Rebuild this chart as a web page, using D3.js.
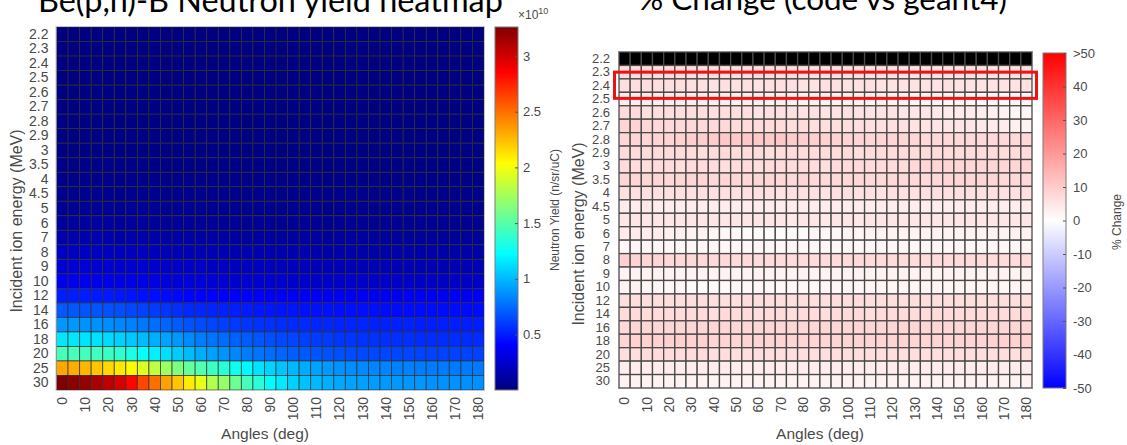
<!DOCTYPE html>
<html>
<head>
<meta charset="utf-8">
<script src="https://cdn.jsdelivr.net/npm/d3@7"></script>
<style>
  html, body { margin: 0; padding: 0; background: #fff; }
  svg { display: block; }
</style>
</head>
<body>
<svg id="chart" width="1127" height="445"></svg>
<script>
// Incident proton energies (MeV), rows top to bottom
const energies = ["2.2","2.3","2.4","2.5","2.6","2.7","2.8","2.9","3","3.5","4","4.5","5","6","7","8","9","10","12","14","16","18","20","25","30"];
// Emission angles (deg), one column each
const angles = [0,5,10,15,20,25,30,35,40,45,50,55,60,65,70,75,80,85,90,95,100,105,110,115,120,125,130,135,140,145,150,155,160,165,170,175,180];
const angleTicks = [0,10,20,30,40,50,60,70,80,90,100,110,120,130,140,150,160,170,180];

// Neutron yield in units of 1e10 n/sr/uC, one row per energy
const yieldE10 = [
  [0.002,0.002,0.002,0.002,0.002,0.002,0.002,0.002,0.002,0.002, 0.002,0.002,0.002,0.002,0.002,0.002,0.002,0.002,0.002,0.002, 0.002,0.002,0.002,0.002,0.002,0.002,0.002,0.002,0.002,0.002, 0.002,0.002,0.002,0.002,0.002,0.002,0.002],
  [0.004,0.004,0.004,0.004,0.004,0.004,0.004,0.004,0.004,0.004, 0.004,0.004,0.003,0.003,0.003,0.003,0.003,0.003,0.003,0.003, 0.003,0.003,0.003,0.003,0.003,0.003,0.003,0.003,0.003,0.003, 0.003,0.003,0.003,0.003,0.003,0.003,0.003],
  [0.006,0.006,0.006,0.006,0.006,0.006,0.006,0.006,0.006,0.006, 0.005,0.005,0.005,0.005,0.005,0.005,0.005,0.005,0.005,0.005, 0.005,0.005,0.005,0.005,0.005,0.005,0.005,0.005,0.005,0.005, 0.005,0.005,0.005,0.005,0.005,0.005,0.005],
  [0.008,0.008,0.008,0.008,0.008,0.008,0.008,0.007,0.007,0.007, 0.007,0.007,0.007,0.007,0.006,0.006,0.006,0.006,0.006,0.006, 0.006,0.006,0.006,0.006,0.006,0.006,0.006,0.006,0.006,0.006, 0.006,0.006,0.006,0.006,0.006,0.006,0.006],
  [0.010,0.010,0.010,0.010,0.010,0.010,0.009,0.009,0.009,0.009, 0.009,0.008,0.008,0.008,0.008,0.008,0.008,0.007,0.007,0.007, 0.007,0.007,0.007,0.007,0.007,0.007,0.007,0.007,0.007,0.007, 0.007,0.007,0.007,0.007,0.007,0.007,0.007],
  [0.012,0.012,0.012,0.012,0.012,0.011,0.011,0.011,0.011,0.011, 0.010,0.010,0.010,0.010,0.010,0.009,0.009,0.009,0.009,0.009, 0.009,0.009,0.009,0.008,0.008,0.008,0.008,0.008,0.008,0.008, 0.008,0.008,0.008,0.008,0.008,0.008,0.008],
  [0.015,0.015,0.015,0.015,0.014,0.014,0.014,0.014,0.013,0.013, 0.013,0.013,0.012,0.012,0.012,0.012,0.011,0.011,0.011,0.011, 0.011,0.011,0.010,0.010,0.010,0.010,0.010,0.010,0.010,0.010, 0.010,0.010,0.010,0.010,0.010,0.010,0.010],
  [0.018,0.018,0.018,0.017,0.017,0.017,0.017,0.016,0.016,0.016, 0.015,0.015,0.015,0.014,0.014,0.014,0.014,0.013,0.013,0.013, 0.013,0.013,0.012,0.012,0.012,0.012,0.012,0.012,0.012,0.012, 0.012,0.012,0.012,0.012,0.012,0.012,0.012],
  [0.020,0.020,0.020,0.020,0.019,0.019,0.019,0.018,0.018,0.018, 0.017,0.017,0.016,0.016,0.016,0.015,0.015,0.015,0.015,0.014, 0.014,0.014,0.014,0.014,0.014,0.013,0.013,0.013,0.013,0.013, 0.013,0.013,0.013,0.013,0.013,0.013,0.013],
  [0.030,0.030,0.030,0.029,0.029,0.029,0.028,0.028,0.027,0.027, 0.026,0.025,0.025,0.024,0.024,0.023,0.023,0.022,0.022,0.022, 0.021,0.021,0.021,0.020,0.020,0.020,0.020,0.020,0.019,0.019, 0.019,0.019,0.019,0.019,0.019,0.019,0.019],
  [0.040,0.040,0.040,0.039,0.039,0.038,0.038,0.037,0.036,0.035, 0.035,0.034,0.033,0.032,0.032,0.031,0.030,0.030,0.029,0.029, 0.028,0.028,0.027,0.027,0.027,0.026,0.026,0.026,0.026,0.025, 0.025,0.025,0.025,0.025,0.025,0.025,0.025],
  [0.052,0.052,0.052,0.051,0.051,0.050,0.049,0.048,0.047,0.046, 0.045,0.044,0.043,0.042,0.041,0.040,0.039,0.038,0.038,0.037, 0.036,0.036,0.035,0.035,0.034,0.034,0.034,0.033,0.033,0.033, 0.033,0.032,0.032,0.032,0.032,0.032,0.032],
  [0.070,0.070,0.069,0.069,0.068,0.067,0.066,0.064,0.063,0.061, 0.060,0.058,0.057,0.055,0.054,0.053,0.052,0.051,0.050,0.049, 0.048,0.047,0.047,0.046,0.046,0.045,0.045,0.044,0.044,0.044, 0.043,0.043,0.043,0.043,0.043,0.042,0.042],
  [0.100,0.100,0.099,0.098,0.097,0.095,0.093,0.091,0.089,0.086, 0.084,0.082,0.080,0.078,0.076,0.074,0.072,0.071,0.070,0.068, 0.067,0.066,0.065,0.064,0.064,0.063,0.062,0.062,0.061,0.061, 0.060,0.060,0.060,0.060,0.059,0.059,0.059],
  [0.15,0.15,0.15,0.15,0.15,0.14,0.14,0.14,0.13,0.13, 0.13,0.12,0.12,0.12,0.12,0.11,0.11,0.11,0.11,0.11, 0.10,0.10,0.10,0.10,0.10,0.10,0.10,0.10,0.09,0.09, 0.09,0.09,0.09,0.09,0.09,0.09,0.09],
  [0.22,0.22,0.22,0.21,0.21,0.21,0.20,0.20,0.19,0.19, 0.18,0.18,0.17,0.17,0.17,0.16,0.16,0.16,0.15,0.15, 0.15,0.15,0.14,0.14,0.14,0.14,0.14,0.14,0.13,0.13, 0.13,0.13,0.13,0.13,0.13,0.13,0.13],
  [0.28,0.28,0.28,0.27,0.27,0.27,0.26,0.26,0.25,0.24, 0.24,0.23,0.23,0.22,0.22,0.21,0.21,0.21,0.20,0.20, 0.20,0.19,0.19,0.19,0.19,0.18,0.18,0.18,0.18,0.18, 0.18,0.17,0.17,0.17,0.17,0.17,0.17],
  [0.36,0.36,0.36,0.35,0.35,0.34,0.34,0.33,0.32,0.31, 0.30,0.30,0.29,0.28,0.28,0.27,0.27,0.26,0.26,0.26, 0.25,0.25,0.25,0.25,0.24,0.24,0.24,0.24,0.24,0.24, 0.23,0.23,0.23,0.23,0.23,0.23,0.23],
  [0.50,0.50,0.50,0.49,0.49,0.48,0.47,0.46,0.45,0.44, 0.43,0.42,0.41,0.40,0.40,0.39,0.39,0.38,0.38,0.38, 0.37,0.37,0.37,0.37,0.37,0.36,0.36,0.36,0.36,0.36, 0.36,0.36,0.36,0.36,0.36,0.36,0.36],
  [0.69,0.69,0.68,0.68,0.67,0.66,0.64,0.62,0.60,0.58, 0.56,0.54,0.53,0.52,0.51,0.50,0.49,0.48,0.48,0.47, 0.47,0.46,0.46,0.46,0.45,0.45,0.45,0.45,0.44,0.44, 0.44,0.44,0.44,0.44,0.44,0.44,0.44],
  [0.89,0.89,0.88,0.87,0.86,0.84,0.82,0.79,0.76,0.73, 0.70,0.67,0.65,0.63,0.61,0.59,0.58,0.57,0.56,0.55, 0.54,0.54,0.53,0.53,0.52,0.52,0.52,0.51,0.51,0.51, 0.51,0.50,0.50,0.50,0.50,0.50,0.50],
  [1.15,1.15,1.14,1.13,1.11,1.08,1.05,1.01,0.97,0.93, 0.89,0.85,0.81,0.78,0.75,0.72,0.70,0.68,0.66,0.64, 0.63,0.61,0.60,0.59,0.58,0.58,0.57,0.57,0.56,0.56, 0.56,0.55,0.55,0.55,0.55,0.55,0.55],
  [1.45,1.45,1.44,1.43,1.41,1.37,1.31,1.24,1.18,1.12, 1.06,1.01,0.96,0.92,0.88,0.84,0.81,0.78,0.75,0.73, 0.71,0.69,0.68,0.67,0.66,0.65,0.64,0.64,0.63,0.63, 0.63,0.62,0.62,0.62,0.62,0.62,0.62],
  [2.32,2.30,2.27,2.22,2.16,2.11,2.05,1.93,1.83,1.73, 1.63,1.54,1.48,1.42,1.35,1.27,1.20,1.14,1.09,1.04, 1.00,0.96,0.93,0.90,0.88,0.86,0.85,0.84,0.83,0.82, 0.82,0.81,0.81,0.80,0.80,0.80,0.80],
  [3.26,3.22,3.19,3.12,3.06,2.97,2.84,2.63,2.50,2.34, 2.22,2.10,1.96,1.79,1.70,1.57,1.44,1.35,1.22,1.16, 1.08,1.03,1.00,0.97,0.95,0.93,0.92,0.91,0.90,0.90, 0.89,0.89,0.88,0.88,0.88,0.87,0.87]
];
const yieldTicks = [0.5, 1, 1.5, 2, 2.5, 3];

// Percent change of the code result relative to Geant4 (null = no comparison)
const pctChange = [
  [null,null,null,null,null,null,null,null,null,null, null,null,null,null,null,null,null,null,null,null, null,null,null,null,null,null,null,null,null,null, null,null,null,null,null,null,null],
  [7,7,7,6.5,7,7,6.5,6.5,7,6.5, 6.5,6.5,7,6.5,6.5,6.5,6.5,6,6,6, 6,6,5.5,6,6,5.5,5.5,6,5.5,5.5, 5.5,6,5.5,5.5,5.5,6,6],
  [6.5,6.5,6.5,6.5,6.5,6.5,6,6,5.5,6, 6,6,5.5,6,6,6,5.5,5.5,6,6, 5.5,5.5,6,5.5,5.5,5.5,5.5,5.5,5.5,6, 5.5,5.5,5.5,5.5,5.5,5.5,5.5],
  [4,4,4,4,4,4,4,4,4,3.5, 3,3.5,3.5,3,3.5,3,3,3.5,3,3, 3,3,3,3.5,3,3,2.5,2.5,2.5,2, 2.5,2,1.5,1.5,1.5,1.5,1.5],
  [7,7,6.5,6.5,6.5,6.5,6.5,6.5,6.5,6.5, 6.5,6,5.5,6,6,6,5.5,6,5.5,5.5, 6,5.5,5.5,5.5,5.5,5,5,5,4.5,4, 4,4,3.5,3,2.5,2,1.5],
  [8.5,8.5,8,7.5,7.5,7.5,7.5,7.5,7.5,7.5, 7,7,7,7,7,6.5,7,6.5,6.5,6.5, 6.5,6,6,6,6,6,5.5,5.5,5,5, 5,5,4.5,4,3.5,3,2.5],
  [8,8,8,8.5,8.5,9,9.5,9.5,10,10.5, 10.5,10.5,10.5,10.5,10.5,10,9.5,9.5,9,8.5, 8.5,8,8,8,8,8,8,7.5,7.5,7.5, 7.5,7.5,7.5,7.5,7.5,7.5,7.5],
  [7,7,7,7,7,7,7,6.5,7,7, 7,7,7,6.5,7,7,7,7,7,7, 7,6.5,7,7,7,7,7,7,7,7, 7,7,7,7,7,7,7],
  [7,7,6.5,7,7,6.5,7,7,7,6.5, 7,7,6.5,7,7,7,7,7,6.5,7, 7,7,7,7,7,7,7.5,8,8,8, 8,8,8,8,8,8,8],
  [8,8,8,8,7.5,8,8,8,7.5,8, 8,7.5,8,8,7.5,7.5,8,7.5,7.5,7.5, 7.5,7.5,7.5,7.5,7.5,7.5,7.5,7.5,7.5,8, 8,8,8,8,7.5,7.5,7.5],
  [6,6,6,6,6,6,6,6,6,6, 6,6,6,6,5.5,6,6,6,5.5,6, 6,5.5,6,5.5,6,6,6,6,6,6, 6,6,6,6,6,6,6],
  [3.5,3.5,4.5,3.5,3.5,3.5,3.5,3.5,3.5,3.5, 3.5,3.5,3.5,3.5,3.5,3.5,3.5,3.5,3.5,3.5, 3.5,3.5,3.5,3.5,3.5,3.5,3.5,3.5,3.5,3.5, 3.5,3.5,3.5,3.5,3.5,3.5,3.5],
  [5,5,5,5,5,5,5,5,5,5, 5,5,5,5,5,4.5,5,5,4.5,5, 5,4.5,5,5,5,5,5,5,5,5, 5,5,5,5,5,5,5],
  [4,4,3.5,3.5,3,3,2.5,2.5,2,1.5, 1.5,1,1,0.5,1,1,1,1.5,1.5,1.5, 2,2,2.5,2.5,2.5,2.5,2.5,2.5,2.5,2.5, 2.5,2.5,2.5,2.5,2.5,2.5,2.5],
  [1.5,1.5,1.5,1.5,1.5,1.5,1.5,1.5,1.5,1.5, 1.5,1.5,1.5,1.5,1.5,1.5,1.5,1.5,1.5,1.5, 1.5,1.5,1.5,1.5,1.5,1.5,1.5,1.5,1.5,1.5, 1.5,1.5,1.5,1.5,1.5,1.5,1.5],
  [9,8.5,8,8,7.5,7.5,7.5,7.5,7.5,7.5, 7,7,7,7,7,7,7,7,7,7, 7,7,7,7,7,7,7,7,7,7, 7,7,7,7,7,7,7],
  [2.5,2.5,2.5,2.5,2.5,2.5,2.5,2.5,2.5,2.5, 2.5,2.5,2.5,2.5,2.5,2.5,2.5,2.5,2.5,2.5, 2.5,2.5,2.5,2.5,2.5,2.5,2.5,2.5,2.5,2.5, 2.5,2.5,2.5,2.5,2.5,2.5,2.5],
  [2.5,2.5,2,1.5,1.5,1.5,1,0.5,1,1, 1.5,1.5,1.5,1.5,1.5,1.5,1.5,1.5,1.5,1.5, 1.5,1.5,2,2,2,2,2,2,2,2, 2,2,2,2,2,2,2],
  [6.5,6.5,6.5,6.5,6.5,6.5,6.5,6.5,6.5,6.5, 6.5,6.5,6.5,6.5,6.5,6.5,6.5,6.5,6.5,6.5, 6.5,6.5,6.5,6.5,6.5,6.5,6.5,6.5,6.5,6.5, 6.5,6.5,6.5,6.5,6.5,6.5,6.5],
  [7,7,7,7,7,7,7,7,6.5,7, 7,7,6.5,7,7,6.5,7,7,6.5,7, 7,7,6.5,7,7,7,7,7,7,7, 7,7,7,7,7,7,7],
  [7.5,8,8,8,8,8,8,8,8,8, 8,8,8,8,8,8,8,8,8,8, 8,8,8,8,8,8,8,8,8,8, 8,8,8,8,8,8,8],
  [8.5,9,9,9,9,9,9,9,8.5,8.5, 8.5,8.5,8.5,8.5,8.5,8.5,8.5,8.5,8.5,8.5, 8.5,8.5,8.5,8.5,8.5,8.5,8.5,8.5,8.5,8.5, 8.5,8.5,8.5,9,9,9,9],
  [6.5,6.5,7,7,7,7,7,7,6.5,6.5, 6.5,6.5,6.5,6.5,6.5,6.5,6.5,6.5,6.5,6.5, 6.5,6.5,6.5,6.5,6.5,6.5,6.5,6.5,6.5,6.5, 6.5,6.5,6.5,6.5,6.5,6.5,6.5],
  [3.5,3.5,3.5,3.5,3.5,3.5,3.5,3.5,3.5,3.5, 3.5,3.5,3.5,3.5,3.5,3.5,3.5,3.5,3.5,3.5, 3.5,3.5,3.5,3.5,3.5,3.5,3.5,3.5,3.5,3.5, 3.5,3.5,3.5,3.5,3.5,3.5,3.5],
  [2.5,2.5,2.5,2.5,2.5,2.5,2.5,2.5,2.5,2.5, 2.5,2.5,2.5,2.5,2.5,2.5,2.5,2.5,2.5,2.5, 2.5,2.5,2.5,2.5,2.5,2.5,2.5,2.5,2.5,2.5, 2.5,2.5,2.5,2.5,2.5,2.5,2.5]
];
const pctTicks = [-50, -40, -30, -20, -10, 0, 10, 20, 30, 40, 50];
const pctLimit = 50;

const svg = d3.select("#chart");
const tickFont = "'Liberation Sans', Arial, sans-serif";
const tickColor = "#4a4a4a";

// MATLAB-style jet colormap
function jet(t) {
  const c = v => Math.max(0, Math.min(1, v));
  const r = c(1.5 - Math.abs(4 * t - 3));
  const g = c(1.5 - Math.abs(4 * t - 2));
  const b = c(1.5 - Math.abs(4 * t - 1));
  return d3.rgb(r * 255, g * 255, b * 255).toString();
}

const allYield = yieldE10.flat();
const yieldColor = d3.scaleSequential(jet).domain([d3.min(allYield), d3.max(allYield)]);
const pctColor = d3.scaleLinear().domain([-pctLimit, 0, pctLimit])
  .range(["#0000ff", "#ffffff", "#ff0000"]).clamp(true);

function drawHeatmap(cfg) {
  const x = d3.scaleBand().domain(angles).range([cfg.x0, cfg.x1]);
  const y = d3.scaleBand().domain(energies).range([cfg.y0, cfg.y1]);
  const cells = [];
  cfg.rows.forEach((row, i) => row.forEach((v, j) => cells.push({ e: energies[i], a: angles[j], v })));
  const g = svg.append("g");

  g.append("g").selectAll("rect").data(cells).join("rect")
    .attr("x", d => x(d.a)).attr("y", d => y(d.e))
    .attr("width", x.bandwidth()).attr("height", y.bandwidth())
    .attr("fill", d => d.v == null ? "#000" : cfg.color(d.v))
    .attr("stroke", cfg.grid).attr("stroke-width", cfg.gridWidth);

  g.append("rect")
    .attr("x", cfg.x0 - 0.5).attr("y", cfg.y0 - 0.5)
    .attr("width", cfg.x1 - cfg.x0 + 1).attr("height", cfg.y1 - cfg.y0 + 1)
    .attr("fill", "none").attr("stroke", cfg.frame).attr("stroke-width", 1);

  const yAxis = g.append("g").attr("transform", `translate(${cfg.x0},0)`)
    .call(d3.axisLeft(y).tickSize(0).tickPadding(cfg.yPad));
  yAxis.select(".domain").remove();
  yAxis.selectAll("text").attr("font-family", tickFont).attr("font-size", cfg.yFont).attr("fill", tickColor);

  const xAxis = g.append("g").attr("transform", `translate(0,${cfg.y1})`)
    .call(d3.axisBottom(x).tickValues(angleTicks).tickSize(0));
  xAxis.select(".domain").remove();
  xAxis.selectAll("text")
    .attr("transform", "rotate(-90)")
    .attr("text-anchor", "end")
    .attr("x", -cfg.xPad).attr("y", 0).attr("dy", "0.35em")
    .attr("font-family", tickFont).attr("font-size", 14).attr("fill", tickColor);

  g.append("text")
    .attr("x", cfg.xLabelX).attr("y", 439)
    .attr("text-anchor", "middle")
    .attr("font-family", tickFont).attr("font-size", 15.5).attr("fill", tickColor)
    .text("Angles (deg)");

  g.append("text")
    .attr("transform", `translate(${cfg.yLabelX},${cfg.yLabelY}) rotate(-90)`)
    .attr("text-anchor", "middle").attr("dy", "0.35em")
    .attr("font-family", tickFont).attr("font-size", 16).attr("fill", tickColor)
    .text("Incident ion energy (MeV)");

  return { x, y };
}

function drawColorbar(cfg) {
  const id = cfg.id;
  const dom = cfg.scale.domain();
  const lo = dom[0], hi = dom[dom.length - 1];
  const grad = svg.append("defs").append("linearGradient")
    .attr("id", id).attr("x1", 0).attr("y1", 1).attr("x2", 0).attr("y2", 0);
  d3.range(0, 1.0001, 1 / 64).forEach(t => {
    grad.append("stop").attr("offset", t).attr("stop-color", cfg.scale(lo + t * (hi - lo)));
  });
  svg.append("rect")
    .attr("x", cfg.x0).attr("y", cfg.y0)
    .attr("width", cfg.x1 - cfg.x0).attr("height", cfg.y1 - cfg.y0)
    .attr("fill", `url(#${id})`).attr("stroke", "#7a7a7a").attr("stroke-width", 1);

  const s = d3.scaleLinear().domain([lo, hi]).range([cfg.y1, cfg.y0]);
  const ax = svg.append("g").attr("transform", `translate(${cfg.x1},0)`)
    .call(d3.axisRight(s).tickValues(cfg.ticks).tickSize(-3).tickPadding(cfg.pad).tickFormat(cfg.format));
  ax.select(".domain").remove();
  ax.selectAll("line").attr("stroke", "#555");
  ax.selectAll("text").attr("font-family", tickFont).attr("font-size", 13).attr("fill", tickColor);

  svg.append("text")
    .attr("transform", `translate(${cfg.labelX},${cfg.labelY}) rotate(-90)`)
    .attr("text-anchor", "middle").attr("dy", "0.35em")
    .attr("font-family", tickFont).attr("font-size", cfg.labelSize).attr("fill", tickColor)
    .text(cfg.label);
}

// Left panel: neutron yield
drawHeatmap({
  rows: yieldE10, color: yieldColor,
  x0: 56.5, x1: 484, y0: 27, y1: 390,
  grid: "rgba(45,45,45,0.75)", gridWidth: 0.9, frame: "#c4c4c4",
  yPad: 8, yFont: 14, xPad: 7, xLabelX: 265, yLabelX: 16, yLabelY: 221
});
drawColorbar({
  id: "yieldGrad", scale: yieldColor,
  x0: 495, x1: 518, y0: 27, y1: 390,
  ticks: yieldTicks, pad: 5, format: d3.format("~g"),
  label: "Neutron Yield (n/sr/uC)", labelX: 555, labelY: 210, labelSize: 12
});
const mult = svg.append("text")
  .attr("x", 518).attr("y", 19)
  .attr("font-family", tickFont).attr("font-size", 12).attr("fill", tickColor)
  .text("\u00d710");
mult.append("tspan").attr("dy", -5).attr("font-size", 9).text("10");

// Right panel: percent change
const right = drawHeatmap({
  rows: pctChange, color: pctColor,
  x0: 619, x1: 1032, y0: 52, y1: 388,
  grid: "#4a4a4a", gridWidth: 1.3, frame: "#8a8a8a",
  yPad: 9, yFont: 13, xPad: 9, xLabelX: 820, yLabelX: 578, yLabelY: 234
});
drawColorbar({
  id: "pctGrad", scale: pctColor,
  x0: 1043, x1: 1066, y0: 53, y1: 388,
  ticks: pctTicks, pad: 7, format: d => d === pctLimit ? ">" + d : d,
  label: "% Change", labelX: 1117, labelY: 222, labelSize: 12
});

// Highlight box around the 2.3–2.4 MeV rows
const by = right.y, bh = by.bandwidth();
svg.append("rect")
  .attr("x", 614.5).attr("y", by("2.3") + 0.5 * bh)
  .attr("width", 1036.5 - 614.5)
  .attr("height", (by("2.5") + 0.45 * bh) - (by("2.3") + 0.5 * bh))
  .attr("fill", "none").attr("stroke", "#f01010").attr("stroke-width", 3);

// Panel titles
function fitTitle(text, x, baseline, width) {
  const t = svg.append("text")
    .attr("x", x).attr("y", baseline)
    .attr("font-family", "Lato, 'Open Sans', sans-serif")
    .attr("font-size", 30).attr("fill", "#000")
    .text(text);
  const w = t.node().getComputedTextLength();
  t.attr("font-size", 30 * width / w);
}
fitTitle("Be(p,n)-B Neutron yield heatmap", 38, 12, 465);
fitTitle("% Change (code vs geant4)", 638, 10, 369);
</script>
</body>
</html>
